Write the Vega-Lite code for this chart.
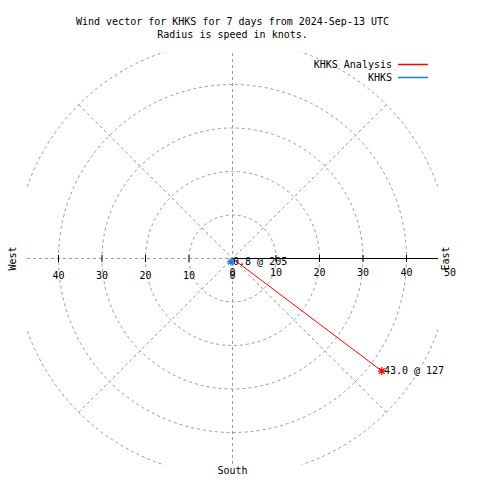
{
  "$schema": "https://vega.github.io/schema/vega-lite/v6.json",
  "width": 411,
  "height": 412,
  "autosize": {"type": "none"},
  "padding": {"left": 27, "top": 52.5, "right": 42, "bottom": 15.5},
  "background": "white",
  "config": {"view": {"stroke": null}, "font": "DejaVu Sans Mono", "text": {"font": "DejaVu Sans Mono", "fontSize": 10, "color": "black"}},
  "title": {
    "text": ["Wind vector for KHKS for 7 days from 2024-Sep-13 UTC", "Radius is speed in knots."],
    "font": "DejaVu Sans Mono", "fontSize": 10, "fontWeight": "normal", "lineHeight": 13,
    "anchor": "middle", "frame": "group", "offset": 13, "color": "black"
  },
  "datasets": {
    "wind": [
      {"series": "KHKS Analysis", "speed": 43.0, "dir": 127, "u": 34.34, "v": -25.88, "label": "43.0 @ 127"},
      {"series": "KHKS", "speed": 0.8, "dir": 205, "u": -0.34, "v": -0.73, "label": "0.8 @ 205"}
    ],
    "rings": [{"r": 10}, {"r": 20}, {"r": 30}, {"r": 40}, {"r": 50}],
    "spokes": [
      {"bearing": 0, "u": 0, "v": 50},
      {"bearing": 45, "u": 35.36, "v": 35.36},
      {"bearing": 90, "u": 50, "v": 0},
      {"bearing": 135, "u": 35.36, "v": -35.36},
      {"bearing": 180, "u": 0, "v": -50},
      {"bearing": 225, "u": -35.36, "v": -35.36},
      {"bearing": 270, "u": -50, "v": 0},
      {"bearing": 315, "u": -35.36, "v": 35.36}
    ],
    "eastAxis": [{"start": 0, "end": 50}],
    "ticks": [{"k": -40}, {"k": -30}, {"k": -20}, {"k": -10}, {"k": 10}, {"k": 20}, {"k": 30}, {"k": 40}],
    "westLabels": [{"k": -40, "t": "40"}, {"k": -30, "t": "30"}, {"k": -20, "t": "20"}, {"k": -10, "t": "10"}, {"k": 0, "t": "0"}],
    "eastLabels": [{"k": 0, "t": "0"}, {"k": 10, "t": "10"}, {"k": 20, "t": "20"}, {"k": 30, "t": "30"}, {"k": 40, "t": "40"}, {"k": 50, "t": "50"}]
  },
  "layer": [
    {
      "data": {"name": "rings"},
      "mark": {"type": "point", "shape": "circle", "filled": false, "stroke": "#9a9a9a", "strokeWidth": 1, "strokeDash": [3, 3], "opacity": 1, "clip": true},
      "encoding": {
        "x": {"datum": 0, "type": "quantitative", "scale": {"domain": [-47.24, 47.24], "nice": false, "zero": false}, "axis": null},
        "y": {"datum": 0, "type": "quantitative", "scale": {"domain": [-47.36, 47.36], "nice": false, "zero": false}, "axis": null},
        "size": {"field": "r", "type": "quantitative", "scale": {"type": "pow", "exponent": 2, "domain": [0, 50], "range": [0, 189225]}, "legend": null}
      }
    },
    {
      "data": {"name": "spokes"},
      "mark": {"type": "rule", "stroke": "#9a9a9a", "strokeWidth": 1, "strokeDash": [3, 3], "clip": true},
      "encoding": {
        "x": {"field": "u", "type": "quantitative", "scale": {"domain": [-47.24, 47.24], "nice": false, "zero": false}, "axis": null},
        "y": {"field": "v", "type": "quantitative", "scale": {"domain": [-47.36, 47.36], "nice": false, "zero": false}, "axis": null},
        "x2": {"datum": 0},
        "y2": {"datum": 0}
      }
    },
    {
      "data": {"name": "eastAxis"},
      "mark": {"type": "rule", "stroke": "black", "strokeWidth": 1, "clip": true},
      "encoding": {
        "x": {"field": "start", "type": "quantitative", "scale": {"domain": [-47.24, 47.24], "nice": false, "zero": false}, "axis": null},
        "x2": {"field": "end"},
        "y": {"datum": 0, "type": "quantitative", "scale": {"domain": [-47.36, 47.36], "nice": false, "zero": false}, "axis": null}
      }
    },
    {
      "data": {"name": "ticks"},
      "mark": {"type": "tick", "orient": "vertical", "size": 7, "thickness": 1, "color": "black", "opacity": 1},
      "encoding": {
        "x": {"field": "k", "type": "quantitative", "scale": {"domain": [-47.24, 47.24], "nice": false, "zero": false}, "axis": null},
        "y": {"datum": 0, "type": "quantitative", "scale": {"domain": [-47.36, 47.36], "nice": false, "zero": false}, "axis": null}
      }
    },
    {
      "data": {"name": "westLabels"},
      "mark": {"type": "text", "align": "center", "baseline": "middle", "dy": 17},
      "encoding": {
        "x": {"field": "k", "type": "quantitative", "scale": {"domain": [-47.24, 47.24], "nice": false, "zero": false}, "axis": null},
        "y": {"datum": 0, "type": "quantitative", "scale": {"domain": [-47.36, 47.36], "nice": false, "zero": false}, "axis": null},
        "text": {"field": "t"}
      }
    },
    {
      "data": {"name": "eastLabels"},
      "mark": {"type": "text", "align": "center", "baseline": "middle", "dy": 14},
      "encoding": {
        "x": {"field": "k", "type": "quantitative", "scale": {"domain": [-47.24, 47.24], "nice": false, "zero": false}, "axis": null},
        "y": {"datum": 0, "type": "quantitative", "scale": {"domain": [-47.36, 47.36], "nice": false, "zero": false}, "axis": null},
        "text": {"field": "t"}
      }
    },
    {
      "data": {"values": [{"name": "West"}]},
      "mark": {"type": "text", "align": "center", "baseline": "middle", "angle": 270, "dy": -1},
      "encoding": {
        "x": {"datum": -50.2, "type": "quantitative", "scale": {"domain": [-47.24, 47.24], "nice": false, "zero": false}, "axis": null},
        "y": {"datum": 0, "type": "quantitative", "scale": {"domain": [-47.36, 47.36], "nice": false, "zero": false}, "axis": null},
        "text": {"field": "name"}
      }
    },
    {
      "data": {"values": [{"name": "East"}]},
      "mark": {"type": "text", "align": "center", "baseline": "middle", "angle": 270, "dy": -1},
      "encoding": {
        "x": {"datum": 49.4, "type": "quantitative", "scale": {"domain": [-47.24, 47.24], "nice": false, "zero": false}, "axis": null},
        "y": {"datum": 0, "type": "quantitative", "scale": {"domain": [-47.36, 47.36], "nice": false, "zero": false}, "axis": null},
        "text": {"field": "name"}
      }
    },
    {
      "data": {"values": [{"name": "South"}]},
      "mark": {"type": "text", "align": "center", "baseline": "middle"},
      "encoding": {
        "x": {"datum": 0, "type": "quantitative", "scale": {"domain": [-47.24, 47.24], "nice": false, "zero": false}, "axis": null},
        "y": {"datum": -48.85, "type": "quantitative", "scale": {"domain": [-47.36, 47.36], "nice": false, "zero": false}, "axis": null},
        "text": {"field": "name"}
      }
    },
    {
      "data": {"name": "wind"},
      "mark": {"type": "rule", "strokeWidth": 1},
      "encoding": {
        "x": {"field": "u", "type": "quantitative", "scale": {"domain": [-47.24, 47.24], "nice": false, "zero": false}, "axis": null},
        "y": {"field": "v", "type": "quantitative", "scale": {"domain": [-47.36, 47.36], "nice": false, "zero": false}, "axis": null},
        "x2": {"datum": 0},
        "y2": {"datum": 0},
        "color": {
          "field": "series", "type": "nominal",
          "scale": {"domain": ["KHKS Analysis", "KHKS"], "range": ["#ff0000", "#1f78e6"]},
          "legend": {
            "orient": "none", "legendX": 380, "legendY": 6, "title": null,
            "symbolType": "M-3,0L3,0", "symbolSize": 100, "symbolStrokeWidth": 1.5,
            "labelAlign": "right", "labelOffset": -27, "labelFont": "DejaVu Sans Mono",
            "labelFontSize": 10, "labelColor": "black", "rowPadding": 2, "padding": 0
          }
        }
      }
    },
    {
      "data": {"name": "wind"},
      "mark": {"type": "point", "shape": "M-1,0L1,0M0,-1L0,1M-0.7,-0.7L0.7,0.7M-0.7,0.7L0.7,-0.7", "filled": false, "size": 64, "strokeWidth": 1.2, "opacity": 1},
      "encoding": {
        "x": {"field": "u", "type": "quantitative", "scale": {"domain": [-47.24, 47.24], "nice": false, "zero": false}, "axis": null},
        "y": {"field": "v", "type": "quantitative", "scale": {"domain": [-47.36, 47.36], "nice": false, "zero": false}, "axis": null},
        "stroke": {"field": "series", "type": "nominal", "scale": {"domain": ["KHKS Analysis", "KHKS"], "range": ["#ff0000", "#1f78e6"]}, "legend": null}
      }
    },
    {
      "data": {"name": "wind"},
      "mark": {"type": "text", "align": "left", "baseline": "middle", "dx": 2},
      "encoding": {
        "x": {"field": "u", "type": "quantitative", "scale": {"domain": [-47.24, 47.24], "nice": false, "zero": false}, "axis": null},
        "y": {"field": "v", "type": "quantitative", "scale": {"domain": [-47.36, 47.36], "nice": false, "zero": false}, "axis": null},
        "text": {"field": "label"}
      }
    }
  ]
}
